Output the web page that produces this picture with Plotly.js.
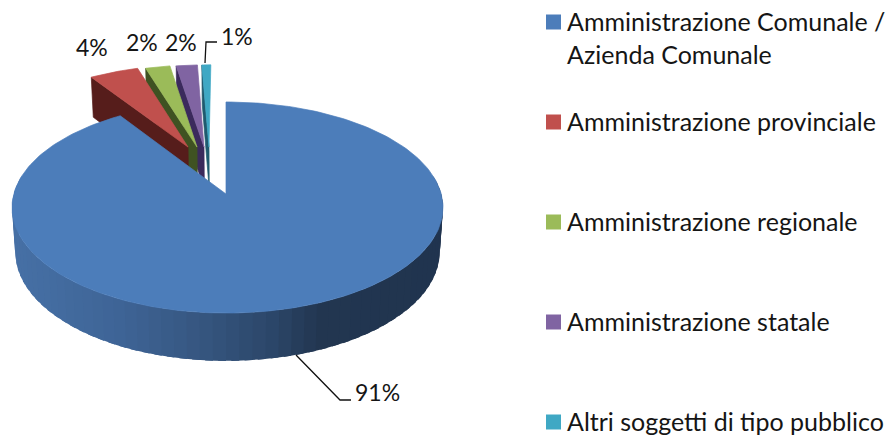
<!DOCTYPE html>
<html>
<head>
<meta charset="utf-8">
<script src="https://cdn.plot.ly/plotly-3.0.1.min.js"></script>
<style>html,body{margin:0;padding:0;background:#fff}#c{width:887px;height:436px}</style>
</head>
<body>
<div id="c"></div>
<script>
// Data
const categories = ["Amministrazione Comunale / Azienda Comunale","Amministrazione provinciale","Amministrazione regionale","Amministrazione statale","Altri soggetti di tipo pubblico"];
const values = [90.7, 4.4, 2.2, 1.9, 0.8];

// Styles
const topColors = ["#4c7dba","#c0504d","#9bbb59","#8064a2","#3fa8c4"];
const wallColors = [null,"#561d1b","#3f5222","#3b2a5c","#1f5a6e"];
const wallStops = [[15,[70,112,165]],[120,[62,100,150]],[200,[54,86,128]],[270,[44,71,106]],[320,[34,54,80]],[440,[32,52,79]]];

// Projection of the tilted pie: pie-plane coordinates to page pixels
const cx=226, cy=194, k=0.128, a=103.8, bL=212.2, bR=215.2;
const explode=[[0,0],[-0.19,0.48],[-0.145,0.48],[-0.11,0.48],[-0.085,0.48]];
function proj(u,v,z){
  const w=1+k*v, b=u>0?bR:bL;
  return [cx+b*u/w*(1-0.015*z), cy-a*v/w+z*44/Math.pow(w,0.62)];
}
function polar(deg,e){const t=deg*Math.PI/180;return [Math.sin(t)+e[0],Math.cos(t)+e[1]];}
function poly(pts,color,name,lw){
  const c=pts.concat([pts[0]]);
  return {type:"scatter",mode:"lines",x:c.map(p=>p[0]),y:c.map(p=>p[1]),fill:"toself",fillcolor:color,
    line:{color:color,width:lw===undefined?0.7:lw},hoverinfo:"skip",showlegend:false,name:name||""};
}
function stopColor(x){
  let s=wallStops;
  if(x<=s[0][0])return `rgb(${s[0][1]})`;
  for(let i=1;i<s.length;i++){ if(x<=s[i][0]){
    const f=(x-s[i-1][0])/(s[i][0]-s[i-1][0]);
    return "rgb("+s[i][1].map((c,j)=>Math.round(s[i-1][1][j]+(c-s[i-1][1][j])*f)).join(",")+")";
  }}
  return `rgb(${s[s.length-1][1]})`;
}
const total=values.reduce((p,c)=>p+c,0);
let start=0; const ranges=values.map(v=>{const r=[start,start+v/total*360];start=r[1];return r;});
const traces=[];
// small exploded slices, back to front (right-most first)
for(let i=values.length-1;i>=1;i--){
  const [s,e]=ranges[i], ex=explode[i];
  const p0=polar(s,ex);
  traces.push(poly([proj(p0[0],p0[1],0),proj(ex[0],ex[1],0),proj(ex[0],ex[1],1),proj(p0[0],p0[1],1)],wallColors[i]));
  const face=[proj(ex[0],ex[1],0)];
  for(let j=0;j<=12;j++){const p=polar(s+(e-s)*j/12,ex);face.push(proj(p[0],p[1],0));}
  traces.push(poly(face,topColors[i],categories[i]));
}
// main slice outer wall as shaded strips, each overlapping the next to hide seams
const N=64, wa=80, wb=280;
for(let j=0;j<N;j++){
  const t0=wa+(wb-wa)*j/N,t1=wa+(wb-wa)*(j+(j<N-1?1.6:1))/N,tm=wa+(wb-wa)*(j+1)/N;
  const p0=polar(t0,[0,0]),p1=polar(t1,[0,0]),pm=polar(tm,[0,0]);
  const pts=[proj(p0[0],p0[1],0),proj(p1[0],p1[1],0),proj(p1[0],p1[1],1),proj(p0[0],p0[1],1)];
  traces.push(poly(pts,stopColor((proj(p0[0],p0[1],0)[0]+proj(pm[0],pm[1],0)[0])/2),"",0));
}
// main slice top face
const face=[proj(0,0,0)];
for(let j=0;j<=240;j++){const p=polar(ranges[0][0]+(ranges[0][1]-ranges[0][0])*j/240,[0,0]);face.push(proj(p[0],p[1],0));}
traces.push(poly(face,topColors[0],categories[0]));

// Leader lines
function leader(pts){return {type:"scatter",mode:"lines",x:pts.map(p=>p[0]),y:pts.map(p=>p[1]),line:{color:"#111",width:1.3},hoverinfo:"skip",showlegend:false};}
traces.push(leader([[296,355],[340,400],[351,400]]));
traces.push(leader([[205,63],[206,42],[217,42]]));

// Legend swatches
const legendY=[22,122,222,322,422];
traces.push({type:"scatter",mode:"markers",x:legendY.map(()=>553.5),y:legendY,
  marker:{symbol:"square",size:15,color:topColors,line:{width:0}},hoverinfo:"skip",showlegend:false});

const font={family:"Lato, 'Open Sans', sans-serif",size:25,color:"#151515"};
const pctFont={family:"Lato, 'Open Sans', sans-serif",size:23,color:"#151515"};
const annotations=[];
function txt(t,x,y,anchor,f){annotations.push({text:t,x:x,y:y,xref:"x",yref:"y",showarrow:false,xanchor:anchor,yanchor:"middle",font:f||font});}
const lblPos=[[377,392],[92,47],[142,42],[181,42],[237,36]];
values.forEach((v,i)=>txt(Math.round(v)+"%",lblPos[i][0],lblPos[i][1],"center",pctFont));
const legendLines=[["Amministrazione Comunale /","Azienda Comunale"],[categories[1]],[categories[2]],[categories[3]],[categories[4]]];
legendLines.forEach((ls,i)=>ls.forEach((l,j)=>txt(l,565,legendY[i]+j*33-1,"left")));

Plotly.newPlot("c",traces,{
  width:887,height:436,margin:{l:0,r:0,t:0,b:0},paper_bgcolor:"#fff",plot_bgcolor:"#fff",showlegend:false,
  xaxis:{range:[0,887],visible:false,fixedrange:true},
  yaxis:{range:[436,0],visible:false,fixedrange:true},
  annotations:annotations
},{displayModeBar:false,staticPlot:true});
</script>
</body>
</html>
